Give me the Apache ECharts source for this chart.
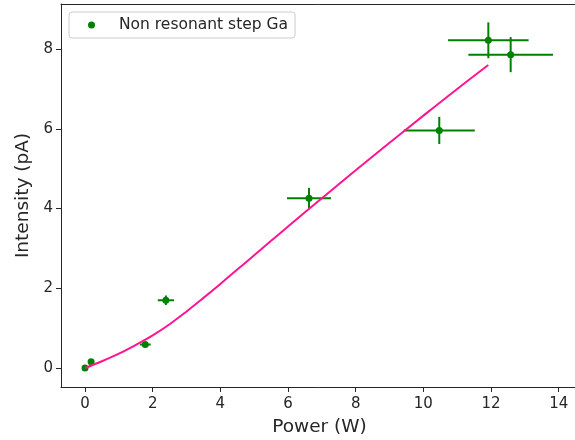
<!DOCTYPE html>
<html>
<head>
<meta charset="utf-8">
<script src="https://cdn.jsdelivr.net/npm/echarts@6/dist/echarts.min.js"></script>
<style>
html,body{margin:0;padding:0;background:#fff;overflow:hidden;}
#chart{width:575px;height:440px;}
</style>
</head>
<body>
<div id="chart"></div>
<script>
// Measured data
const power        = [0,    0.18, 1.78, 2.39, 6.62, 10.47, 11.92, 12.58];
const powerErr     = [0,    0,    0.16, 0.24, 0.65, 1.05,  1.19,  1.25];
const intensity    = [0,    0.16, 0.59, 1.70, 4.26, 5.96,  8.22,  7.86];
const intensityErr = [0,    0,    0.04, 0.12, 0.26, 0.34,  0.45,  0.44];

// Fit curve
const fitPower     = [0, 0.5, 1, 1.5, 2, 2.5, 3, 3.5, 4, 4.5, 5, 5.5, 6, 7, 8, 9, 10, 11, 11.92];
const fitIntensity = [0, 0.17, 0.36, 0.58, 0.82, 1.1, 1.42, 1.76, 2.11, 2.47, 2.83, 3.19, 3.55, 4.26, 4.96, 5.65, 6.33, 7.0, 7.6];

const xTicks = [0, 2, 4, 6, 8, 10, 12, 14];
const yTicks = [0, 2, 4, 6, 8];

const seriesName = 'Non resonant step Ga';
const xTitle = 'Power (W)';
const yTitle = 'Intensity (pA)';

const pointData = power.map((p, i) => [p, intensity[i]]);
const errData = power.map((p, i) => [p, intensity[i], powerErr[i], intensityErr[i]]);
const fitData = fitPower.map((p, i) => [p, fitIntensity[i]]);

const font = 'DejaVu Sans';
const ink = '#262626';

const chart = echarts.init(document.getElementById('chart'), null, {renderer: 'canvas'});
chart.setOption({
  animation: false,
  backgroundColor: '#ffffff',
  grid: {left: 61, right: -3, top: 4, bottom: 53, show: false, outerBoundsMode: 'none', containLabel: false},
  legend: {
    data: [seriesName],
    left: 69, top: 12,
    padding: [5, 7, 5, 19],
    icon: 'circle',
    itemWidth: 7, itemHeight: 7, itemGap: 0,
    itemStyle: {color: 'green', opacity: 1},
    textStyle: {fontFamily: font, fontSize: 15.5, color: ink, padding: [0, 0, 0, 19]},
    borderColor: '#cccccc', borderWidth: 1, borderRadius: 3,
    backgroundColor: 'rgba(255,255,255,0.8)'
  },
  xAxis: [{
    type: 'value', min: -0.71, max: 14.57,
    name: xTitle, nameLocation: 'middle', nameGap: 31,
    nameTextStyle: {fontFamily: font, fontSize: 18.5, color: ink},
    axisLine: {show: true, onZero: false, lineStyle: {color: ink, width: 1}},
    axisTick: {show: true, length: 5, customValues: xTicks, lineStyle: {color: ink}},
    axisLabel: {customValues: xTicks, fontFamily: font, fontSize: 15, color: ink, margin: 10},
    splitLine: {show: false}
  }, {
    type: 'value', position: 'top', min: -0.71, max: 14.57,
    axisLine: {show: true, onZero: false, lineStyle: {color: ink, width: 1}},
    axisTick: {show: false}, axisLabel: {show: false}, splitLine: {show: false}
  }],
  yAxis: {
    type: 'value', min: -0.475, max: 9.13,
    name: yTitle, nameLocation: 'middle', nameGap: 23, nameRotate: 90,
    nameTextStyle: {fontFamily: font, fontSize: 18.5, color: ink},
    axisLine: {show: true, onZero: false, lineStyle: {color: ink, width: 1}},
    axisTick: {show: true, length: 5, customValues: yTicks, lineStyle: {color: ink}},
    axisLabel: {customValues: yTicks, fontFamily: font, fontSize: 15, color: ink, margin: 8},
    splitLine: {show: false}
  },
  series: [
    {
      name: 'errors',
      type: 'custom',
      data: errData,
      z: 3,
      renderItem: function (params, api) {
        const x = api.value(0), y = api.value(1), ex = api.value(2), ey = api.value(3);
        const l = api.coord([x - ex, y]);
        const r = api.coord([x + ex, y]);
        const t = api.coord([x, y + ey]);
        const b = api.coord([x, y - ey]);
        const style = {stroke: 'green', lineWidth: 2};
        return {
          type: 'group',
          children: [
            {type: 'line', shape: {x1: l[0], y1: l[1], x2: r[0], y2: r[1]}, style: style},
            {type: 'line', shape: {x1: t[0], y1: t[1], x2: b[0], y2: b[1]}, style: style}
          ]
        };
      }
    },
    {
      name: seriesName,
      type: 'scatter',
      data: pointData,
      symbol: 'circle',
      symbolSize: 7,
      itemStyle: {color: 'green', opacity: 1},
      z: 4
    },
    {
      name: 'fit',
      type: 'line',
      data: fitData,
      showSymbol: false,
      symbol: 'none',
      smooth: 0.4,
      lineStyle: {color: '#ff1493', width: 2},
      z: 5
    }
  ]
});
</script>
</body>
</html>
